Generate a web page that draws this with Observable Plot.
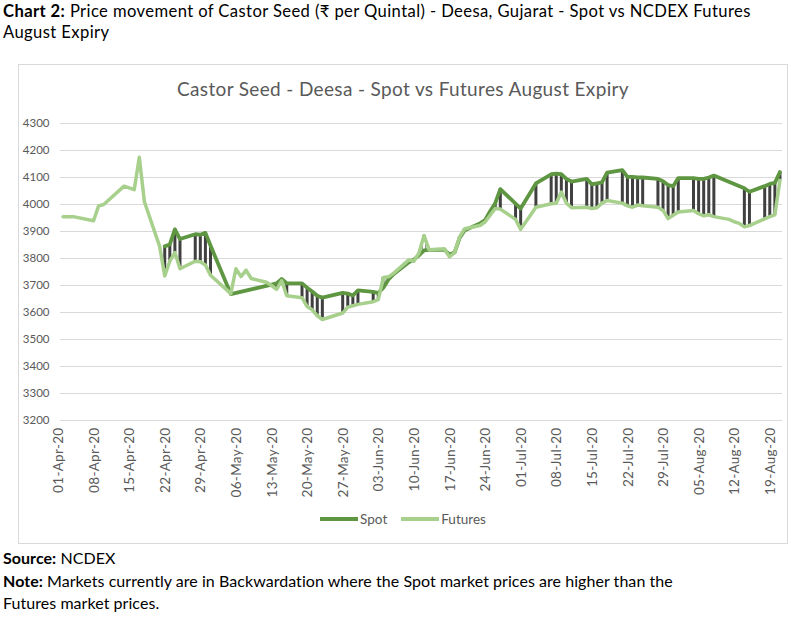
<!DOCTYPE html>
<html><head><meta charset="utf-8">
<script src="https://cdn.jsdelivr.net/npm/d3@7"></script>
<script src="https://cdn.jsdelivr.net/npm/@observablehq/plot@0.6"></script>
<style>
body{margin:0;background:#fff;}
#page{position:relative;width:806px;height:617px;overflow:hidden;font-family:Lato,"Noto Sans",sans-serif;color:#000;}
#hdr{position:absolute;left:3px;top:1px;font-size:16.6px;letter-spacing:0.4px;line-height:21px;white-space:nowrap;}
#frame{position:absolute;left:18px;top:64px;width:770px;height:480px;border:1px solid #d9d9d9;box-sizing:border-box;}
#title{position:absolute;left:18px;width:770px;top:77px;text-align:center;font-size:19px;letter-spacing:0.35px;line-height:24px;color:#595959;}
#chart{position:absolute;left:0;top:100px;}
#legend{position:absolute;left:18px;width:770px;top:511px;display:flex;justify-content:center;align-items:center;font-size:13.5px;color:#595959;}
#legend .sw{display:inline-block;width:38px;height:4px;margin-right:2px;}
#legend .it{display:flex;align-items:center;margin:0 7px;}
#ftr{position:absolute;left:3px;top:547px;font-size:16px;letter-spacing:0.05px;line-height:22.5px;white-space:nowrap;}
</style></head><body>
<div id="page">
<div id="hdr"><b>Chart 2:</b> Price movement of Castor Seed (₹ per Quintal) - Deesa, Gujarat - Spot vs NCDEX Futures<br>August Expiry</div>
<div id="frame"></div>
<div id="title">Castor Seed - Deesa - Spot vs Futures August Expiry</div>
<div id="chart"></div>
<div id="legend"><span class="it"><span class="sw" style="background:#5e9642"></span>Spot</span><span class="it"><span class="sw" style="background:#a8d08d"></span>Futures</span></div>
<div id="ftr"><b>Source:</b> NCDEX<br><b>Note:</b> Markets currently are in Backwardation where the Spot market prices are higher than the<br>Futures market prices.</div>
</div>
<script>
const dates = [
"2020-04-01","2020-04-03","2020-04-07","2020-04-08","2020-04-09","2020-04-13","2020-04-15","2020-04-16","2020-04-17","2020-04-20",
"2020-04-21","2020-04-22","2020-04-23","2020-04-24","2020-04-27","2020-04-28","2020-04-29","2020-04-30",
"2020-05-04","2020-05-05","2020-05-06","2020-05-07","2020-05-08","2020-05-11","2020-05-12","2020-05-13","2020-05-14","2020-05-15",
"2020-05-18","2020-05-19","2020-05-20","2020-05-21","2020-05-22","2020-05-26","2020-05-27","2020-05-28","2020-05-29",
"2020-06-01","2020-06-02","2020-06-03","2020-06-04","2020-06-05","2020-06-08","2020-06-09","2020-06-10","2020-06-11","2020-06-12",
"2020-06-15","2020-06-16","2020-06-17","2020-06-18","2020-06-19","2020-06-22","2020-06-23","2020-06-24","2020-06-25","2020-06-26",
"2020-06-29","2020-06-30",
"2020-07-01","2020-07-02","2020-07-03","2020-07-06","2020-07-07","2020-07-08","2020-07-09","2020-07-10","2020-07-13","2020-07-14",
"2020-07-15","2020-07-16","2020-07-17","2020-07-20","2020-07-21","2020-07-22","2020-07-23","2020-07-24","2020-07-27","2020-07-28",
"2020-07-29","2020-07-30","2020-07-31",
"2020-08-03","2020-08-04","2020-08-05","2020-08-06","2020-08-07","2020-08-10","2020-08-11","2020-08-12","2020-08-13","2020-08-14",
"2020-08-17","2020-08-18","2020-08-19","2020-08-20"];
const spot = [
null,null,null,null,null,null,null,null,null,null,
3845,3852,3908,3872,3890,3888,3895,3848,
3668,null,null,null,null,null,3703,3708,3724,3708,
3708,3692,3678,3662,3655,3673,3670,3663,3682,
3676,3672,3692,3722,3742,3786,3796,3812,3830,3832,
3832,3815,3822,3876,3905,3930,3942,3975,4005,4057,
4003,3985,
null,null,4078,4112,4114,4112,4095,4085,4095,4075,
4078,4082,4118,4127,4102,4102,4100,4100,4095,4086,
4072,4068,4098,
4098,4095,4095,4100,4107,null,null,null,4060,4047,
4068,4076,4080,4120];
const futures = [
3955,3955,3940,3995,4000,4068,4055,4175,4010,3845,
3735,3790,3822,3762,3790,3788,3776,3738,
3670,3762,3733,3757,3726,3712,3700,3686,3718,3662,
3655,3622,3610,3588,3574,3598,3620,3625,3630,
3640,3648,3730,3732,3745,3795,3790,3820,3885,3832,
3836,3806,3822,3880,3910,3922,3935,3960,3985,3983,
3945,3908,
3935,3962,3990,4003,4005,4046,4005,3988,3990,3985,
3988,4005,4015,4005,3995,3990,3998,3995,3990,3978,
3948,3960,3972,
3978,3966,3958,3962,3955,3945,3936,3930,3917,3922,
3947,3955,3962,4090];
const yTicks = [3200,3300,3400,3500,3600,3700,3800,3900,4000,4100,4200,4300];
const xTickDates = ["2020-04-01","2020-04-08","2020-04-15","2020-04-22","2020-04-29","2020-05-06","2020-05-13","2020-05-20","2020-05-27","2020-06-03","2020-06-10","2020-06-17","2020-06-24","2020-07-01","2020-07-08","2020-07-15","2020-07-22","2020-07-29","2020-08-05","2020-08-12","2020-08-19"];
const xTickLabels = ["01-Apr-20","08-Apr-20","15-Apr-20","22-Apr-20","29-Apr-20","06-May-20","13-May-20","20-May-20","27-May-20","03-Jun-20","10-Jun-20","17-Jun-20","24-Jun-20","01-Jul-20","08-Jul-20","15-Jul-20","22-Jul-20","29-Jul-20","05-Aug-20","12-Aug-20","19-Aug-20"];

const SPOT_C = "#5e9642", FUT_C = "#a8d08d";
const rows = dates.map((d, i) => ({date: new Date(d + "T00:00:00Z"), spot: spot[i], futures: futures[i]}));
const both = rows.filter(d => d.spot != null && d.futures != null);
const down = both.filter(d => d.spot >= d.futures);
const up = both.filter(d => d.spot < d.futures);
const ticks = xTickDates.map((d, i) => ({date: new Date(d + "T00:00:00Z"), label: xTickLabels[i]}));

const chart = Plot.plot({
  width: 806, height: 400,
  marginTop: 23, marginBottom: 80, marginLeft: 60, marginRight: 24,
  style: {fontFamily: "Lato, 'Noto Sans', sans-serif", background: "transparent", overflow: "visible"},
  x: {type: "utc", domain: [new Date(Date.UTC(2020,2,31,12)), new Date(Date.UTC(2020,7,20,12))], axis: null},
  y: {domain: [3200, 4300], axis: null},
  marks: [
    Plot.ruleY(yTicks, {stroke: "#d9d9d9", strokeWidth: 1}),
    Plot.text(yTicks, {y: d => d, frameAnchor: "left", text: d => String(d), textAnchor: "end", dx: -11, fill: "#595959", fontSize: 11.5}),
    Plot.text(ticks, {x: "date", frameAnchor: "bottom", text: "label", rotate: -90, textAnchor: "end", dy: 7, fill: "#595959", fontSize: 13.5, letterSpacing: "0.3px"}),
    Plot.ruleX(down, {x: "date", y1: "futures", y2: "spot", stroke: "#404040", strokeWidth: 3}),
    Plot.ruleX(up, {x: "date", y1: "futures", y2: "spot", stroke: "#8c8c8c", strokeWidth: 4}),
    Plot.ruleX(up, {x: "date", y1: "futures", y2: "spot", stroke: "#ffffff", strokeWidth: 2}),
    Plot.line(rows.filter(d => d.spot != null), {x: "date", y: "spot", stroke: SPOT_C, strokeWidth: 3.8, strokeLinejoin: "round", strokeLinecap: "round"}),
    Plot.line(rows.filter(d => d.futures != null), {x: "date", y: "futures", stroke: FUT_C, strokeWidth: 3.5, strokeLinejoin: "round", strokeLinecap: "round"})
  ]
});
chart.querySelectorAll("text").forEach(t => { if (t.closest("g") && t.getAttribute("transform") && t.getAttribute("transform").includes("rotate")) t.style.letterSpacing = "0.3px"; });
document.getElementById("chart").appendChild(chart);
</script>
</body></html>
